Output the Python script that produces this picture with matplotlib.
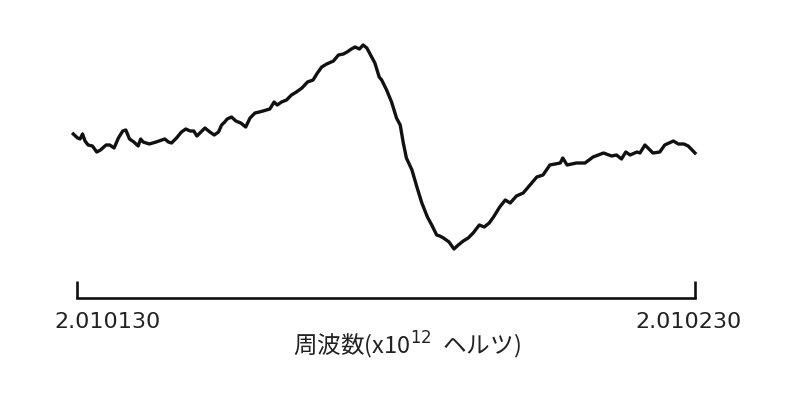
import matplotlib
matplotlib.use("Agg")
import matplotlib.pyplot as plt
import matplotlib.transforms as mtransforms

# frequency offset across the sweep (0 = 2.010130, 100 = 2.010230), signal in arbitrary units
freq_offset = [-0.6, 0.1, 0.5, 0.9, 1.3, 1.8, 2.5, 3.2, 3.8, 4.7, 5.3, 6.0, 6.7, 7.4, 7.9,
               8.5, 9.2, 9.9, 10.3, 10.7, 11.7, 12.8, 13.7, 14.2, 14.8, 15.3, 16.1, 16.9,
               17.6, 18.3, 18.9, 19.4, 20.2, 20.7, 21.5, 22.2, 22.9, 23.4, 23.9, 24.3,
               25.0, 25.7, 26.5, 27.3, 28.0, 28.8, 29.5, 30.1, 31.2, 31.9, 32.4, 33.1,
               33.9, 34.7, 35.5, 36.4, 37.3, 38.2, 38.9, 39.6, 40.4, 41.5, 42.3, 43.1,
               43.7, 44.4, 45.0, 45.7, 46.3, 46.9, 47.5, 48.2, 48.9, 49.3, 50.1, 50.9,
               51.7, 52.3, 52.8, 53.3, 54.2, 55.0, 55.8, 56.7, 57.4, 58.2, 58.7, 59.3,
               60.2, 61.0, 61.7, 62.5, 63.3, 64.1, 65.1, 65.9, 66.7, 67.4, 68.4, 69.3,
               70.1, 71.1, 72.2, 73.3, 74.4, 75.4, 76.3, 76.5, 78.2, 78.6, 79.3, 80.8,
               82.2, 83.5, 85.2, 86.5, 87.3, 88.1, 88.8, 89.5, 90.6, 91.1, 91.9, 93.2,
               94.3, 95.1, 96.5, 97.3, 98.2, 98.9, 100.0]
signal = [16, 12, 11, 16, 9, 5, 4, -2, 0, 5, 5, 2, 12, 19, 20,
          11, 8, 4, 11, 8, 6, 8, 10, 11, 8, 7, 12, 18,
          21, 19, 19, 14, 19, 22, 18, 15, 18, 25, 28, 31,
          33, 29, 27, 23, 32, 37, 38, 39, 41, 48, 45, 48,
          50, 55, 58, 62, 68, 70, 77, 83, 86, 89, 95, 96,
          98, 101, 103, 101, 105, 102, 95, 87, 73, 70, 60, 48,
          32, 25, 7, -8, -20, -37, -53, -67, -75, -85, -86, -88,
          -92, -99, -95, -91, -88, -83, -75, -77, -73, -67, -57, -50,
          -53, -46, -43, -35, -27, -25, -17, -15, -13, -8, -15, -13,
          -13, -7, -3, -6, -5, -9, -2, -5, -2, -3, 5, -3,
          -2, 5, 9, 6, 6, 4, -3]
tick_pos = [0, 100]
tick_labels = ["2.010130", "2.010230"]
xlabel = "周波数(x10$^{12}$  ヘルツ)"

plt.rcParams['font.family'] = ['DejaVu Sans', 'Noto Sans CJK JP']

fig = plt.figure(figsize=(8, 4), dpi=100)
ax = fig.add_axes([77 / 800, 100 / 400, 618 / 800, 280 / 400])
ax.plot(freq_offset, signal, color="#111111", lw=2.4, solid_joinstyle="round", clip_on=False)

ax.set_xlim(0, 100)
ax.set_ylim(-150, 130)
for s in ["top", "right", "left"]:
    ax.spines[s].set_visible(False)
ax.spines["bottom"].set_bounds(0, 100)
ax.spines["bottom"].set_linewidth(1.9)
ax.spines["bottom"].set_color("#111111")
ax.spines["bottom"].set_position(("data", -148))
ax.set_yticks([])
ax.set_xticks(tick_pos)
ax.set_xticklabels(tick_labels, fontsize=16, color="#222222")
ax.tick_params(axis="x", direction="in", length=12, width=1.9, color="#111111", pad=10)
ax.patch.set_visible(False)

# labels sit a bit off their ticks in the original
shifts = [30, -6]
for lab, dx in zip(ax.get_xticklabels(), shifts):
    lab.set_transform(lab.get_transform() + mtransforms.ScaledTranslation(dx / 100, 0, fig.dpi_scale_trans))

ax.set_xlabel(xlabel, fontsize=17, family=['Noto Sans CJK JP', 'DejaVu Sans'], color="#222222")
ax.xaxis.set_label_coords(0.534, -0.105)

fig.savefig("out.png", dpi=100)
